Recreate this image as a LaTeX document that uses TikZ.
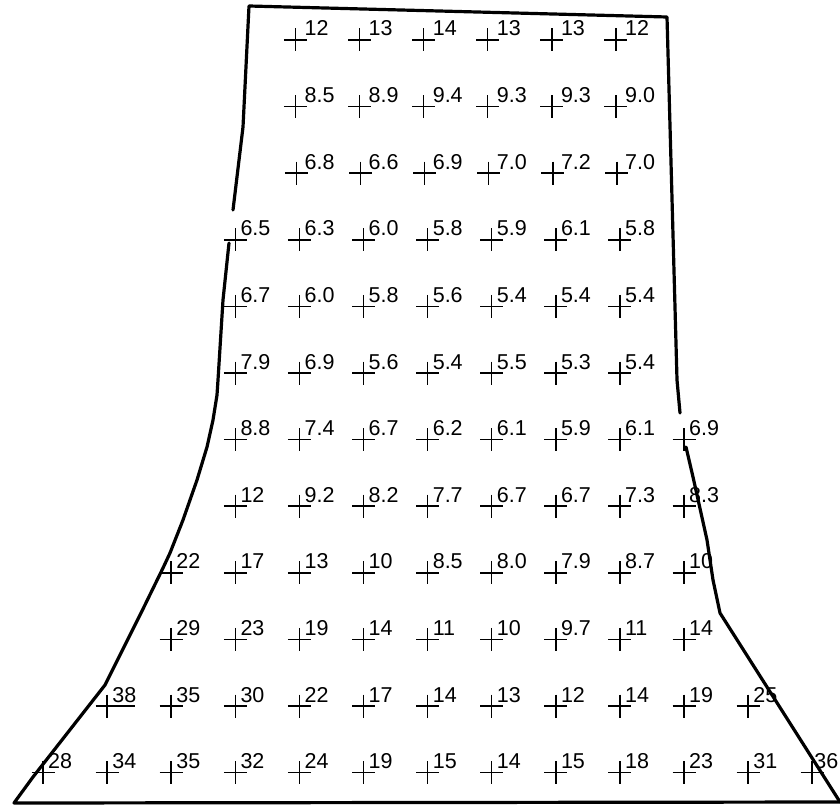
\documentclass[tikz,border=0pt]{standalone}
\usepackage{fontspec}
\setmainfont{Liberation Sans}
\begin{document}
\begin{tikzpicture}[x=1pt,y=-1pt,
  outline/.style={line width=3.2pt, line join=round, line cap=round},
  plusmark/.style={line width=1.5pt},
  val/.style={anchor=base west, inner sep=0pt, font=\fontsize{21.5}{26}\selectfont}]
\useasboundingbox (0,0) rectangle (840,805);
% measurement points
\foreach \r/\s/\dx/\vals in {
  0/4/-4/{12,13,14,13,13,12},
  1/4/-4/{8.5,8.9,9.4,9.3,9.3,9.0},
  2/4/-3/{6.8,6.6,6.9,7.0,7.2,7.0},
  3/3/0/{6.5,6.3,6.0,5.8,5.9,6.1,5.8},
  4/3/0/{6.7,6.0,5.8,5.6,5.4,5.4,5.4},
  5/3/0/{7.9,6.9,5.6,5.4,5.5,5.3,5.4},
  6/3/0/{8.8,7.4,6.7,6.2,6.1,5.9,6.1,6.9},
  7/3/0/{12,9.2,8.2,7.7,6.7,6.7,7.3,8.3},
  8/2/0/{22,17,13,10,8.5,8.0,7.9,8.7,10},
  9/2/0/{29,23,19,14,11,10,9.7,11,14},
  10/1/0/{38,35,30,22,17,14,13,12,14,19,25},
  11/0/0/{28,34,35,32,24,19,15,14,15,18,23,31,36}}{
  \foreach \v [count=\k from 0] in \vals {
    \pgfmathsetmacro\cx{43+64.1*(\s+\k)}
    \pgfmathsetmacro\px{\cx+\dx}
    \pgfmathsetmacro\cy{40+66.6*\r}
    \pgfmathsetmacro\lx{\cx+5-3*and(\r==11,\k==12)}
    \pgfmathsetmacro\ly{\cy-4}
    \coordinate (p-\r-\k) at (\px,\cy);
    \draw[plusmark] (p-\r-\k) +(-11.5,0) -- +(11.5,0)
                    (p-\r-\k) +(0,-11.5) -- +(0,11.5);
    \node[val] (l-\r-\k) at (\lx,\ly) {\v};
  }
}
% extended bar under 38
\draw[plusmark] (p-10-0) -- ++(28,0);
% outline
\draw[outline] (233,210) -- (243,127) -- (249,6) -- (667,17) -- (677,380) -- (680,413);
\draw[outline] (229,243) -- (223,300) -- (218,380) -- (217,395) -- (213,420) -- (207,447)
  -- (197,480) -- (183,520) -- (170,553) -- (163,568) -- (142,611) -- (105,685)
  -- (33,777) -- (14,803) -- (840,802);
\draw[outline] (686,447) -- (693,477) -- (707,540) -- (713,580) -- (720,613) -- (840,802);
\end{tikzpicture}
\end{document}
